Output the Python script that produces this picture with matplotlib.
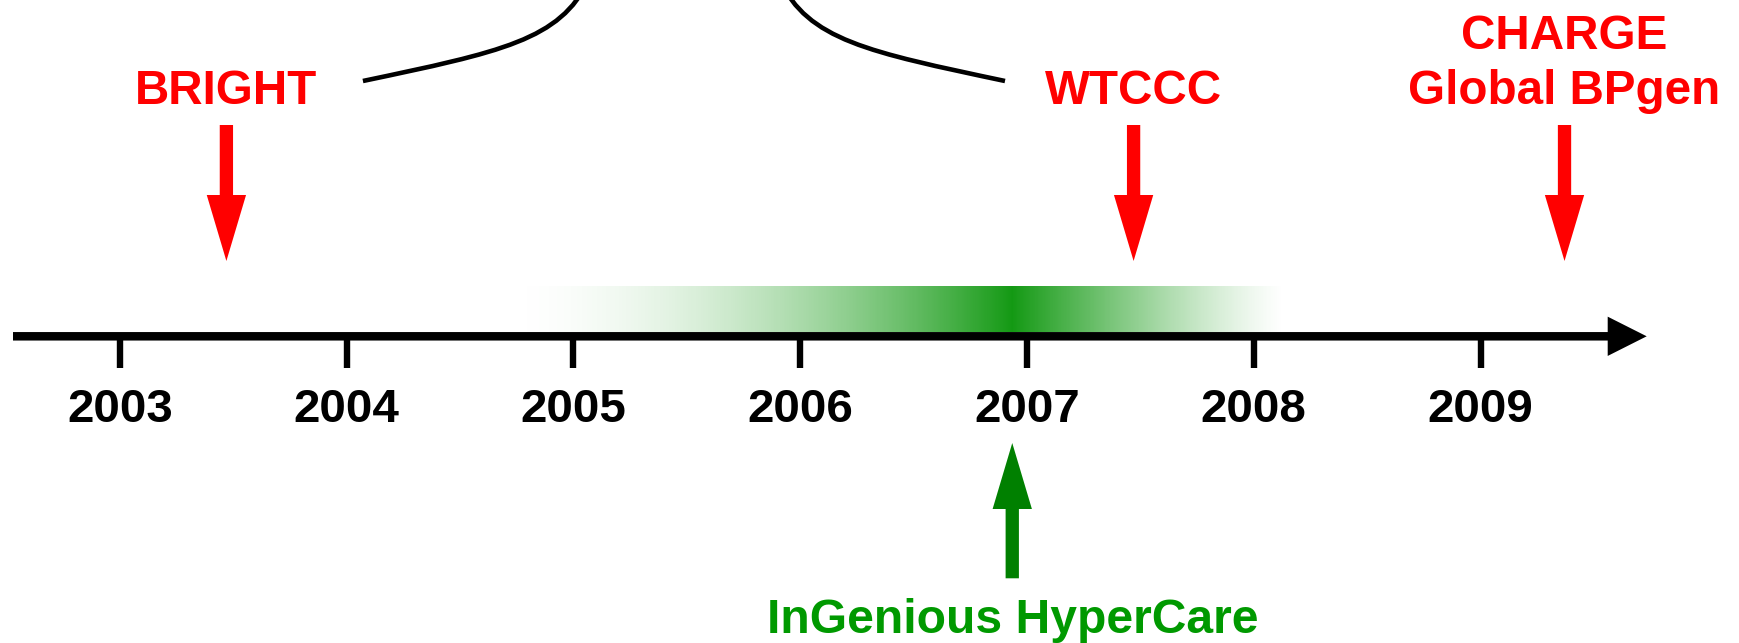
import numpy as np
import matplotlib
matplotlib.use("Agg")
import matplotlib.pyplot as plt
from matplotlib.patches import FancyArrow, PathPatch
from matplotlib.path import Path

# ---------------- data ----------------
years = [2003, 2004, 2005, 2006, 2007, 2008, 2009]
year_labels = [str(y) for y in years]

red_labels = ["BRIGHT", "WTCCC", "CHARGE\nGlobal BPgen"]
red_years = [2003.47, 2007.47, 2009.37]

green_label = "InGenious HyperCare"
green_year = 2006.935

highlight_start = 2004.67
highlight_end = 2008.137

# brace (decorative) control points: (year, row)
brace_left = [(2004.072, 81), (2004.679, 52), (2004.943, 40), (2005.067, -20)]
brace_right = [(2006.903, 81), (2006.299, 52), (2006.034, 40), (2005.910, -20)]

# ---------------- layout ----------------
W, H, DPI = 1739, 643, 100
X0_PX, PX_PER_YEAR = 119.8, 226.8


def px2yr(px):
    return 2003 + (px - X0_PX) / PX_PER_YEAR


RED = "#ff0000"
GREEN_ARROW = "#008000"
GREEN_TEXT = "#009900"
GREEN_BAR = (0.075, 0.60, 0.075)
FONT = ["Liberation Sans", "DejaVu Sans"]

AXIS_Y = 336.3
TICK_BOTTOM = 367.5
YEAR_BASELINE = 422
LABEL_BASELINE = 104
LINE_STEP = 55
RED_TOP, RED_TIP = 125, 261
GREEN_BOTTOM, GREEN_TIP = 578.3, 443
BAR_TOP, BAR_BOTTOM = 286, 332
SHAFT_W = 13.3 / PX_PER_YEAR
HEAD_W = 39.3 / PX_PER_YEAR
HEAD_L = 66

fig = plt.figure(figsize=(W / DPI, H / DPI), dpi=DPI)
ax = fig.add_axes([0, 0, 1, 1])
ax.axis("off")

# gradient highlight
n = 512
t = np.linspace(0, 1, n)
left = np.zeros((1, n, 4))
left[..., :3] = GREEN_BAR
left[0, :, 3] = t ** 1.9
right = np.zeros((1, n, 4))
right[..., :3] = GREEN_BAR
right[0, :, 3] = (1 - t) ** 1.25
ax.imshow(left, extent=[highlight_start, green_year, BAR_BOTTOM, BAR_TOP],
          aspect="auto", interpolation="nearest", zorder=3)
ax.imshow(right, extent=[green_year, highlight_end, BAR_BOTTOM, BAR_TOP],
          aspect="auto", interpolation="nearest", zorder=3)

# time axis arrow
x_start, x_tip = px2yr(13), px2yr(1646.7)
ax.add_patch(FancyArrow(x_start, AXIS_Y, x_tip - x_start, 0, width=8.5,
                        head_width=39.3, head_length=39 / PX_PER_YEAR,
                        length_includes_head=True, color="black", lw=0, zorder=2))

# ticks and year labels
ax.vlines(years, AXIS_Y, TICK_BOTTOM, color="black", lw=4.6, zorder=1)
for y, lab in zip(years, year_labels):
    ax.text(y, YEAR_BASELINE, lab, ha="center", va="baseline", fontsize=34.2,
            fontweight="bold", color="black", family=FONT)

# red events
for lab, x in zip(red_labels, red_years):
    ax.add_patch(FancyArrow(x, RED_TOP, 0, RED_TIP - RED_TOP, width=SHAFT_W,
                            head_width=HEAD_W, head_length=HEAD_L,
                            length_includes_head=True, color=RED, lw=0, zorder=4))
    for i, line in enumerate(reversed(lab.split("\n"))):
        ax.text(x, LABEL_BASELINE - i * LINE_STEP, line, ha="center", va="baseline",
                fontsize=34.3, fontweight="bold", color=RED, family=FONT)

# green event
ax.add_patch(FancyArrow(green_year, GREEN_BOTTOM, 0, GREEN_TIP - GREEN_BOTTOM,
                        width=SHAFT_W, head_width=HEAD_W, head_length=HEAD_L,
                        length_includes_head=True, color=GREEN_ARROW, lw=0, zorder=4))
ax.text(green_year, 633, green_label, ha="center", va="baseline", fontsize=34.6,
        fontweight="bold", color=GREEN_TEXT, family=FONT)

# brace
codes = [Path.MOVETO, Path.CURVE4, Path.CURVE4, Path.CURVE4]
for pts in (brace_left, brace_right):
    ax.add_patch(PathPatch(Path(pts, codes), fill=False, lw=3.3, ec="black",
                           capstyle="butt", zorder=2))

ax.set_xlim(px2yr(0), px2yr(W))
ax.set_ylim(H, 0)

fig.savefig("out.png", dpi=DPI)
